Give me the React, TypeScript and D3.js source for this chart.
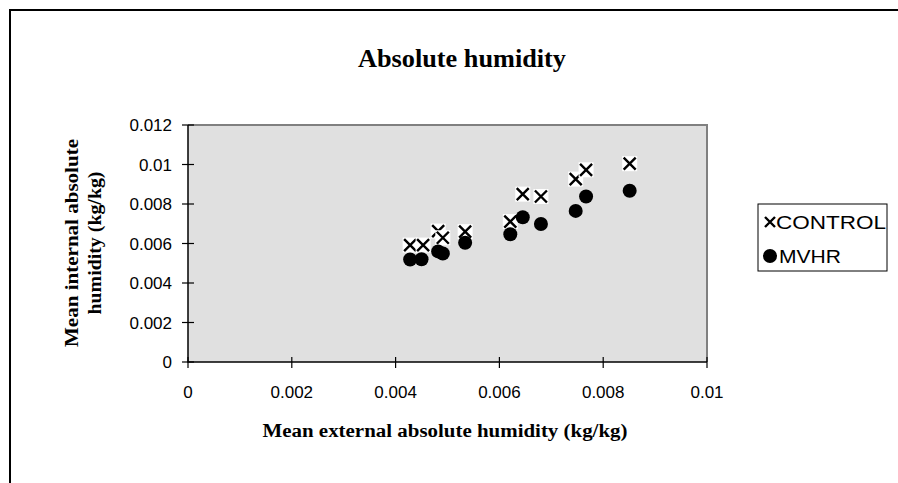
import React from "react";
import * as d3 from "d3";

const controlX = [0.00428, 0.00453, 0.00482, 0.00491, 0.00534, 0.00621, 0.00645, 0.0068, 0.00747, 0.00767, 0.00851];
const controlY = [0.00592, 0.00592, 0.00663, 0.00629, 0.0066, 0.00711, 0.0085, 0.00838, 0.00926, 0.00973, 0.01004];
const mvhrX = [0.00428, 0.0045, 0.00482, 0.00491, 0.00534, 0.00621, 0.00645, 0.0068, 0.00747, 0.00767, 0.00851];
const mvhrY = [0.00519, 0.0052, 0.0056, 0.00549, 0.00604, 0.00647, 0.00733, 0.00699, 0.00765, 0.00838, 0.00867];
const xTicks = [0, 0.002, 0.004, 0.006, 0.008, 0.01];
const yTicks = [0, 0.002, 0.004, 0.006, 0.008, 0.01, 0.012];
const seriesNames = ["CONTROL", "MVHR"];

const W = 898;
const H = 483;
const plot = { left: 188, right: 707, top: 125, bottom: 362 };

const x = d3.scaleLinear().domain([0, 0.01]).range([plot.left, plot.right]);
const y = d3.scaleLinear().domain([0, 0.012]).range([plot.bottom, plot.top]);

const sans = "'Liberation Sans', Arial, sans-serif";
const serif = "'Liberation Serif', 'Times New Roman', serif";

function fmt(v: number) {
  return String(+v.toFixed(4));
}

function XMark({ cx, cy }: { cx: number; cy: number }) {
  return (
    <g transform={`translate(${cx},${cy})`}>
      <rect x={-7.5} y={-7.5} width={15} height={15} fill="#ffffff" />
      <path d="M-6,-6L6,6M-6,6L6,-6" stroke="#000" strokeWidth={2.4} />
    </g>
  );
}

export default function App() {
  const tickFs = 17;
  return (
    <svg
      width={W}
      height={H}
      style={{ position: "absolute", left: 0, top: 0, background: "#fff" }}
    >
      <rect x={0} y={0} width={W} height={H} fill="#fff" />
      <rect x={10} y={10} width={W + 20} height={H + 20} fill="none" stroke="#000" strokeWidth={2} />
      <text
        x={462}
        y={67}
        textAnchor="middle"
        fontFamily={serif}
        fontWeight="bold"
        fontSize={25}
        textLength={208}
        lengthAdjust="spacingAndGlyphs"
      >
        Absolute humidity
      </text>

      <rect
        x={plot.left}
        y={plot.top}
        width={plot.right - plot.left}
        height={plot.bottom - plot.top}
        fill="#e0e0e0"
      />
      <path
        d={`M${plot.left},${plot.top}H${plot.right}V${plot.bottom}`}
        fill="none"
        stroke="#808080"
        strokeWidth={2}
      />
      <path
        d={`M${plot.left},${plot.top}V${plot.bottom}H${plot.right}`}
        fill="none"
        stroke="#000"
        strokeWidth={1.5}
      />
      {yTicks.map((t) => (
        <g key={"y" + t}>
          <line x1={plot.left - 6} x2={plot.left + 6} y1={y(t)} y2={y(t)} stroke="#000" strokeWidth={1.2} />
          <text x={172} y={y(t)} dy="0.36em" textAnchor="end" fontFamily={sans} fontSize={tickFs}>
            {fmt(t)}
          </text>
        </g>
      ))}
      {xTicks.map((t) => (
        <g key={"x" + t}>
          <line x1={x(t)} x2={x(t)} y1={plot.bottom - 5} y2={plot.bottom + 6} stroke="#000" strokeWidth={1.2} />
          <text x={x(t)} y={392} dy="0.36em" textAnchor="middle" fontFamily={sans} fontSize={tickFs}>
            {fmt(t)}
          </text>
        </g>
      ))}
      {controlX.map((v, i) => (
        <XMark key={"c" + i} cx={x(v)} cy={y(controlY[i])} />
      ))}
      {mvhrX.map((v, i) => (
        <circle key={"m" + i} cx={x(v)} cy={y(mvhrY[i])} r={7} fill="#000" />
      ))}

      <text
        x={445}
        y={437}
        textAnchor="middle"
        fontFamily={serif}
        fontWeight="bold"
        fontSize={18}
        textLength={365}
        lengthAdjust="spacingAndGlyphs"
      >
        Mean external absolute humidity (kg/kg)
      </text>
      <g transform="translate(78,243) rotate(-90)">
        <text
          x={0}
          y={0}
          textAnchor="middle"
          fontFamily={serif}
          fontWeight="bold"
          fontSize={18}
          textLength={208}
          lengthAdjust="spacingAndGlyphs"
        >
          Mean internal absolute
        </text>
        <text
          x={0}
          y={23}
          textAnchor="middle"
          fontFamily={serif}
          fontWeight="bold"
          fontSize={18}
          textLength={143}
          lengthAdjust="spacingAndGlyphs"
        >
          humidity (kg/kg)
        </text>
      </g>

      <rect x={758} y={204} width={129} height={67} fill="#fff" stroke="#000" strokeWidth={1} />
      <path d="M765,217L775,227M765,227L775,217" stroke="#000" strokeWidth={2.4} />
      <text x={776} y={222} dy="0.36em" fontFamily={sans} fontSize={19} textLength={110} lengthAdjust="spacingAndGlyphs">
        {seriesNames[0]}
      </text>
      <circle cx={770} cy={256} r={7} fill="#000" />
      <text x={779} y={256} dy="0.36em" fontFamily={sans} fontSize={19} textLength={62} lengthAdjust="spacingAndGlyphs">
        {seriesNames[1]}
      </text>
    </svg>
  );
}
